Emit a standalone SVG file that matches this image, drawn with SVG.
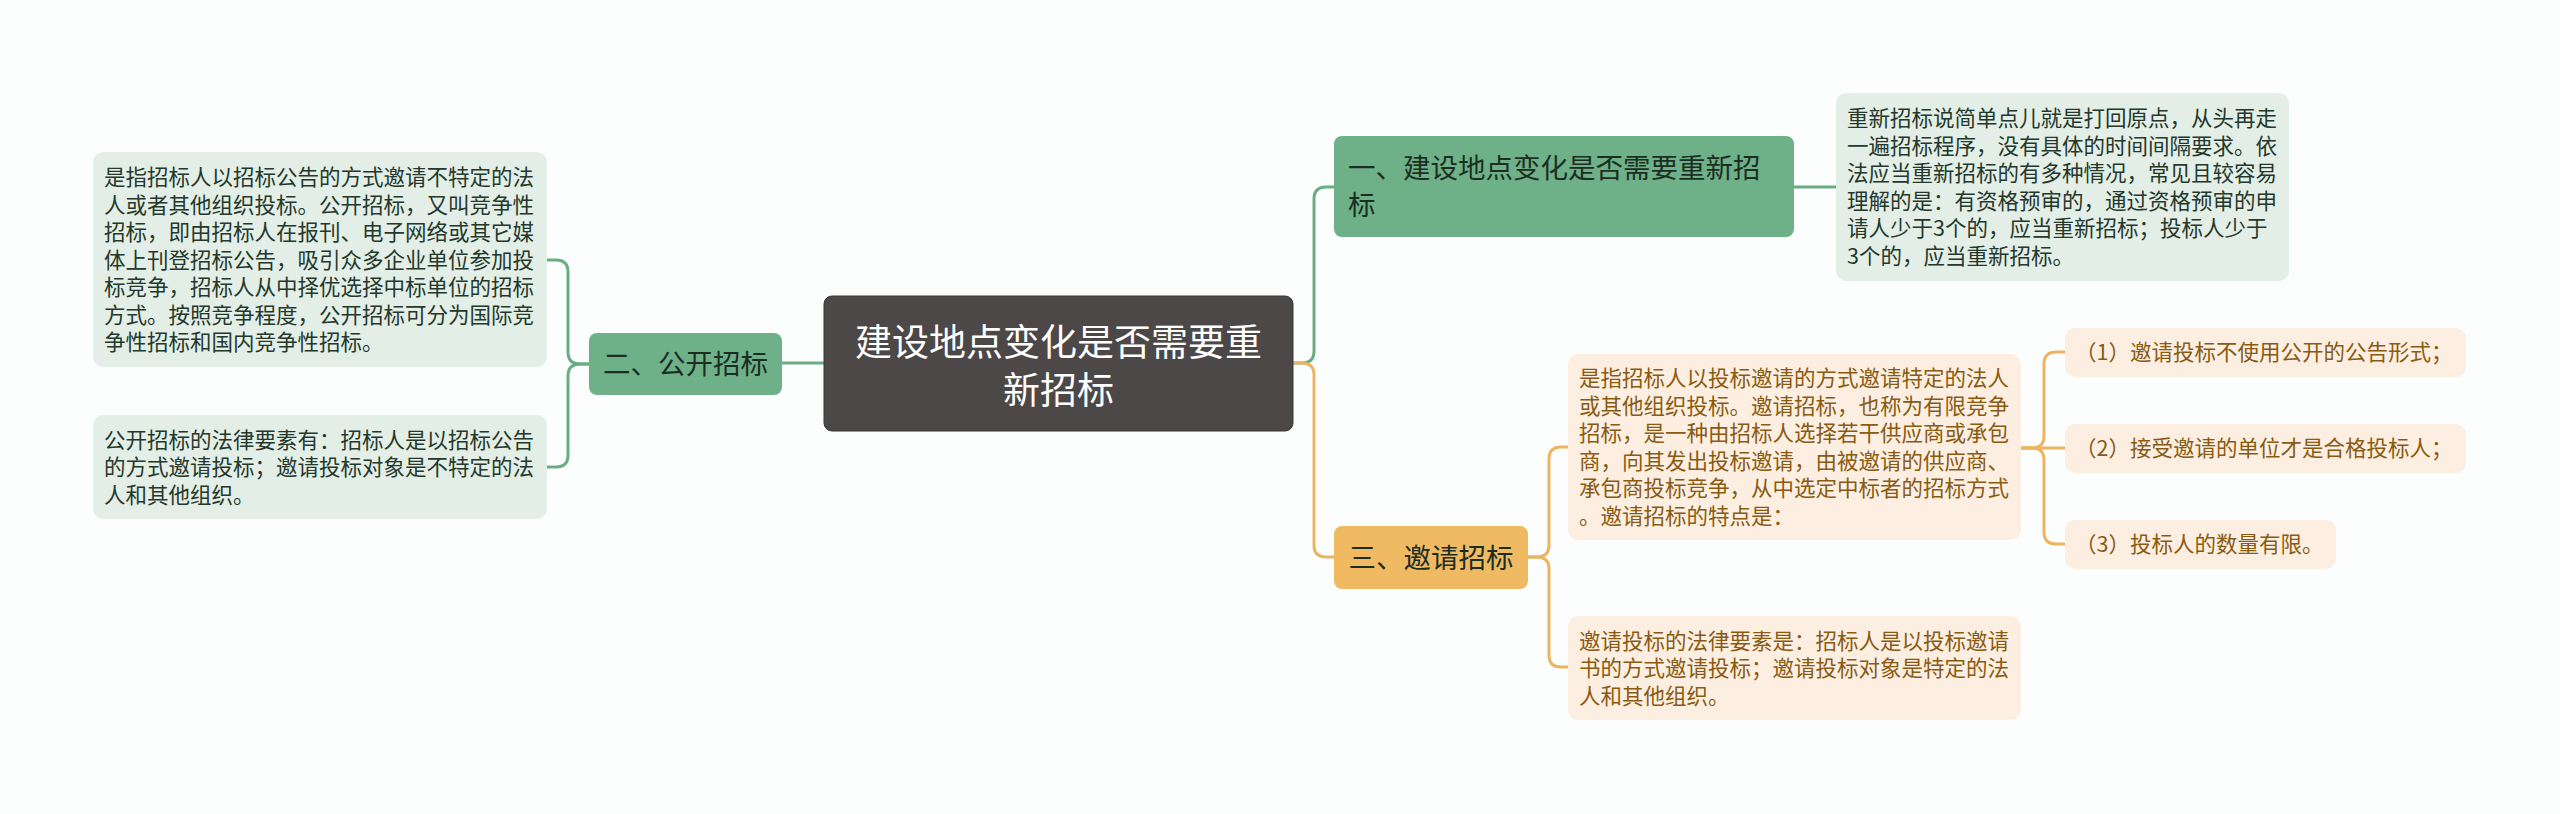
<svg xmlns="http://www.w3.org/2000/svg" width="2560" height="814" viewBox="0 0 2560 814">
<style>
text{font-family:"Noto Sans CJK SC","Noto Sans",sans-serif;}
.t{font-size:21.5px;}
.g{fill:#24382b;}
.o{fill:#8a5a12;}
.lg{fill:#e3eee7;}
.lo{fill:#fcefe1;}
.n{font-size:27.5px;fill:#1c2e22;}
.cg{fill:none;stroke:#6aad84;stroke-width:3;}
.co{fill:none;stroke:#ecb460;stroke-width:3;}
</style>
<rect width="2560" height="814" fill="#fcfefe"/>
<g id="connectors">
<path class="cg" d="M824,363 H782"/>
<path class="cg" d="M589,364 H580 Q568,364 568,352 V272 Q568,260 556,260 H547"/>
<path class="cg" d="M589,364 H580 Q568,364 568,376 V455 Q568,467 556,467 H547"/>
<path class="cg" d="M1293,363 H1302 Q1314,363 1314,351 V199 Q1314,187 1326,187 H1334"/>
<path class="co" d="M1293,363 H1302 Q1314,363 1314,375 V545 Q1314,557 1326,557 H1334"/>
<path class="cg" d="M1794,187 H1836"/>
<path class="co" d="M1528,557 H1537 Q1549,557 1549,545 V459 Q1549,447 1561,447 H1568"/>
<path class="co" d="M1528,557 H1537 Q1549,557 1549,569 V655 Q1549,667 1561,667 H1568"/>
<path class="co" d="M2021,448 H2065"/>
<path class="co" d="M2021,448 H2032 Q2044,448 2044,436 V364 Q2044,352 2056,352 H2065"/>
<path class="co" d="M2021,448 H2032 Q2044,448 2044,460 V532 Q2044,544 2056,544 H2065"/>
</g>
<g id="root">
<rect x="824" y="296" width="469" height="135" rx="8" fill="#4d4848" stroke="#3a3636" stroke-width="1"/>
<text x="1058.5" y="356" font-size="37" fill="#ffffff" text-anchor="middle">建设地点变化是否需要重</text>
<text x="1058.5" y="404" font-size="37" fill="#ffffff" text-anchor="middle">新招标</text>
</g>
<g id="n2">
<rect x="589" y="333" width="193" height="62" rx="8" fill="#6eb088"/>
<text class="n" x="685.5" y="374" text-anchor="middle">二、公开招标</text>
</g>
<g id="n2a">
<rect class="lg" x="93" y="152" width="454" height="215" rx="10"/>
<text class="t g" x="104"><tspan x="104" y="185">是指招标人以招标公告的方式邀请不特定的法</tspan><tspan x="104" y="212.5">人或者其他组织投标。公开招标，又叫竞争性</tspan><tspan x="104" y="240">招标，即由招标人在报刊、电子网络或其它媒</tspan><tspan x="104" y="267.5">体上刊登招标公告，吸引众多企业单位参加投</tspan><tspan x="104" y="295">标竞争，招标人从中择优选择中标单位的招标</tspan><tspan x="104" y="322.5">方式。按照竞争程度，公开招标可分为国际竞</tspan><tspan x="104" y="350">争性招标和国内竞争性招标。</tspan></text>
</g>
<g id="n2b">
<rect class="lg" x="93" y="415" width="454" height="104" rx="10"/>
<text class="t g"><tspan x="104" y="447.5">公开招标的法律要素有：招标人是以招标公告</tspan><tspan x="104" y="475">的方式邀请投标；邀请投标对象是不特定的法</tspan><tspan x="104" y="502.5">人和其他组织。</tspan></text>
</g>
<g id="n1">
<rect x="1334" y="136" width="460" height="101" rx="8" fill="#6eb088"/>
<text class="n"><tspan x="1348" y="178">一、建设地点变化是否需要重新招</tspan><tspan x="1348" y="215">标</tspan></text>
</g>
<g id="n1a">
<rect class="lg" x="1836" y="93" width="453" height="188" rx="10"/>
<text class="t g"><tspan x="1847" y="126">重新招标说简单点儿就是打回原点，从头再走</tspan><tspan x="1847" y="153.5">一遍招标程序，没有具体的时间间隔要求。依</tspan><tspan x="1847" y="181">法应当重新招标的有多种情况，常见且较容易</tspan><tspan x="1847" y="208.5">理解的是：有资格预审的，通过资格预审的申</tspan><tspan x="1847" y="236">请人少于3个的，应当重新招标；投标人少于</tspan><tspan x="1847" y="263.5">3个的，应当重新招标。</tspan></text>
</g>
<g id="n3">
<rect x="1334" y="526" width="194" height="63" rx="8" fill="#efba62"/>
<text class="n" x="1431" y="567.5" text-anchor="middle" fill="#2e2412">三、邀请招标</text>
</g>
<g id="n3a">
<rect class="lo" x="1568" y="354" width="453" height="186" rx="10"/>
<text class="t o"><tspan x="1579" y="386">是指招标人以投标邀请的方式邀请特定的法人</tspan><tspan x="1579" y="413.5">或其他组织投标。邀请招标，也称为有限竞争</tspan><tspan x="1579" y="441">招标，是一种由招标人选择若干供应商或承包</tspan><tspan x="1579" y="468.5">商，向其发出投标邀请，由被邀请的供应商、</tspan><tspan x="1579" y="496">承包商投标竞争，从中选定中标者的招标方式</tspan><tspan x="1579" y="523.5">。邀请招标的特点是：</tspan></text>
</g>
<g id="n3b">
<rect class="lo" x="1568" y="616" width="453" height="104" rx="10"/>
<text class="t o"><tspan x="1579" y="648.5">邀请投标的法律要素是：招标人是以投标邀请</tspan><tspan x="1579" y="676">书的方式邀请投标；邀请投标对象是特定的法</tspan><tspan x="1579" y="703.5">人和其他组织。</tspan></text>
</g>
<g id="c1">
<rect class="lo" x="2065" y="328" width="401" height="49" rx="10"/>
<text class="t o" x="2075" y="360">（1）邀请投标不使用公开的公告形式；</text>
</g>
<g id="c2">
<rect class="lo" x="2065" y="424" width="401" height="49" rx="10"/>
<text class="t o" x="2075" y="456">（2）接受邀请的单位才是合格投标人；</text>
</g>
<g id="c3">
<rect class="lo" x="2065" y="520" width="271" height="49" rx="10"/>
<text class="t o" x="2075" y="552">（3）投标人的数量有限。</text>
</g>
</svg>
